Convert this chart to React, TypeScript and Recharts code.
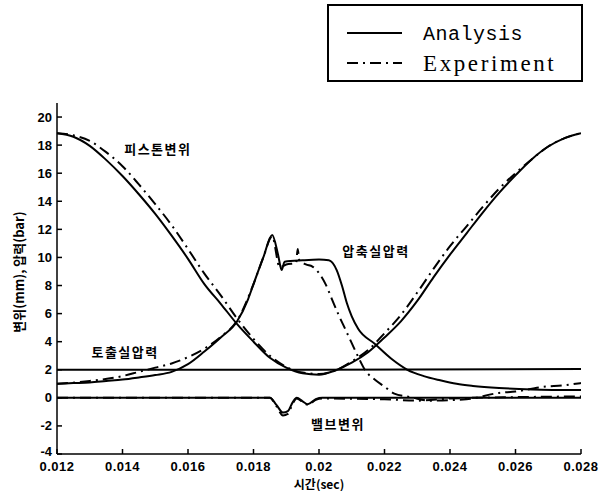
import { LineChart, Line, XAxis, YAxis, ReferenceDot } from "recharts";

// time axis (sec) and value axis ticks
const xTicks = [0.012, 0.014, 0.016, 0.018, 0.02, 0.022, 0.024, 0.026, 0.028];
const yTicks = [-4, -2, 0, 2, 4, 6, 8, 10, 12, 14, 16, 18, 20];

// 피스톤변위 (piston displacement)
const pistonT = [
  0.012, 0.0125, 0.013, 0.0135, 0.014, 0.0145, 0.015, 0.0155, 0.016, 0.0165,
  0.017, 0.0175, 0.018, 0.0185, 0.019, 0.0195, 0.02, 0.0205, 0.021, 0.0215,
  0.022, 0.0225, 0.023, 0.0235, 0.024, 0.0245, 0.025, 0.0255, 0.026, 0.0265,
  0.027, 0.0275, 0.028,
];
const pistonAnalysis = [
  18.85, 18.6, 17.95, 16.95, 15.8, 14.5, 13.1, 11.55, 9.9, 8.1,
  6.7, 5.25, 4.0, 2.85, 2.15, 1.75, 1.65, 1.95, 2.5, 3.25,
  4.3, 5.45, 6.9, 8.6, 10.2, 11.7, 13.2, 14.6, 15.85, 17.0,
  17.9, 18.5, 18.85,
];
const pistonExperiment = [
  18.85, 18.7, 18.3, 17.5, 16.5, 15.2, 13.8, 12.3, 10.6, 8.85,
  7.3, 5.65, 4.2, 3.0, 2.2, 1.8, 1.7, 1.95, 2.6, 3.4,
  4.6, 5.9, 7.5, 9.2, 10.8, 12.2, 13.6, 14.9, 16.0, 17.0,
  17.9, 18.5, 18.85,
];

// 압축실압력 (compression chamber pressure)
const compAnalysisT = [
  0.012, 0.0125, 0.013, 0.0135, 0.014, 0.0145, 0.015, 0.0155, 0.016, 0.0165,
  0.017, 0.0175, 0.01783, 0.018, 0.0183, 0.01857, 0.01875, 0.01886, 0.01895,
  0.0195, 0.02, 0.0203, 0.02054, 0.0207, 0.02085, 0.021, 0.0212, 0.0217,
  0.0222, 0.0227, 0.0232, 0.0237, 0.0242, 0.0247, 0.0255, 0.0265, 0.028,
];
const compAnalysis = [
  1.0, 1.05, 1.1, 1.2, 1.3, 1.45, 1.62, 1.85, 2.4, 3.3,
  4.3, 5.45, 7.0, 8.1, 10.0, 11.6, 10.2, 9.1, 9.7,
  9.8, 9.85, 9.8, 9.1, 8.0, 6.75, 5.8, 4.9, 3.85,
  2.8, 2.0, 1.55, 1.25, 1.0, 0.85, 0.7, 0.6, 0.55,
];
const compExperimentT = [
  0.012, 0.013, 0.014, 0.0145, 0.015, 0.0155, 0.016, 0.0165, 0.017, 0.0175,
  0.018, 0.0183, 0.01857, 0.0188, 0.019, 0.0193, 0.01935, 0.0194, 0.0196,
  0.0198, 0.0202, 0.0204, 0.0206, 0.0208, 0.021, 0.0212, 0.0214, 0.0217,
  0.022, 0.0223, 0.0228, 0.0234, 0.0245, 0.0255, 0.026, 0.0268, 0.0275, 0.028,
];
const compExperiment = [
  1.0, 1.2, 1.55, 1.85, 2.15, 2.45, 2.9, 3.5, 4.35, 5.5,
  8.1, 10.0, 11.5, 9.3, 9.5, 9.6, 10.6, 9.8, 9.5,
  9.35, 8.1, 7.0, 5.9, 4.9, 3.9, 2.9, 2.0, 1.3,
  0.8, 0.3, 0.05, -0.2, -0.1, 0.35, 0.45, 0.77, 0.9, 1.05,
];

// 토출실압력 (discharge chamber pressure)
const dischargeT = [0.012, 0.02, 0.028];
const dischargeAnalysis = [2.0, 2.0, 2.05];

// 밸브변위 (valve displacement)
const valveT = [
  0.012, 0.016, 0.0185, 0.0187, 0.0189, 0.01905, 0.0192, 0.01932, 0.0195,
  0.01966, 0.0199, 0.0201, 0.022, 0.023, 0.024, 0.026, 0.028,
];
const valveAnalysis = [
  0, 0, 0, -0.5, -1.05, -0.95, -0.3, 0, -0.25,
  -0.45, -0.1, 0, 0, 0, 0, 0, 0,
];
const valveExperiment = [
  0, 0, 0, -0.6, -1.25, -1.15, -0.4, -0.05, -0.3,
  -0.5, -0.15, -0.05, -0.1, -0.2, -0.05, 0.05, 0.1,
];

const zip = (ts: number[], vs: number[]) => ts.map((t, i) => ({ t, v: vs[i] }));

const DASH_DOT = "11 5 2 5";
const TICK_FONT = {
  fill: "#000",
  fontSize: 13,
  fontWeight: 700,
  fontFamily: "'Liberation Sans', Arial, sans-serif",
};
const KO_FONT = "'Noto Sans CJK KR', sans-serif";
const PLOT_BOTTOM = 454;

// bottom tick labels sit just under the frame
function TimeTick({ x, payload }: any) {
  return (
    <text x={x} y={PLOT_BOTTOM + 8} dy="0.71em" textAnchor="middle" letterSpacing={0.5} {...TICK_FONT}>
      {String(Number(Number(payload.value).toFixed(3)))}
    </text>
  );
}

// left tick labels, "-4" lifted slightly so it clears 0.012
function ValueTick({ y, payload }: any) {
  const lift = payload.value === -4 ? 3 : 0;
  return (
    <text x={52} y={y - lift} dy="0.35em" textAnchor="end" {...TICK_FONT}>
      {payload.value}
    </text>
  );
}

function Note({ x, y, text }: { x: number; y: number; text: string }) {
  return (
    <ReferenceDot
      x={x}
      y={y}
      r={0}
      fill="none"
      stroke="none"
      label={{
        value: text,
        position: "center",
        fill: "#000",
        fontSize: 13,
        fontWeight: 700,
        fontFamily: KO_FONT,
        letterSpacing: 1.5,
      }}
    />
  );
}

function LegendBox() {
  return (
    <svg
      width={256}
      height={78}
      style={{ position: "absolute", left: 327, top: 4 }}
    >
      <rect x={1} y={1} width={254} height={76} fill="#fff" stroke="#000" strokeWidth={2} />
      <line x1={20} y1={29} x2={75} y2={29} stroke="#000" strokeWidth={2} />
      <line x1={20} y1={59} x2={75} y2={59} stroke="#000" strokeWidth={2} strokeDasharray={DASH_DOT} />
      <text x={96} y={36} fontSize={20} fontFamily="'Liberation Mono', monospace" fill="#000" letterSpacing={0.5}>
        Analysis
      </text>
      <text x={96} y={67} fontSize={23} fontFamily="'Liberation Serif', serif" fill="#000" letterSpacing={2.6}>
        Experiment
      </text>
    </svg>
  );
}

export default function App() {
  const solid = { stroke: "#000", strokeWidth: 2, dot: false, isAnimationActive: false, type: "monotone" as const };
  const dashed = { ...solid, strokeWidth: 2, strokeDasharray: DASH_DOT };
  return (
    <div style={{ position: "absolute", left: 0, top: 0, width: 599, height: 491, background: "#fff" }}>
      <LineChart width={599} height={491} margin={{ top: 103, right: 18, bottom: 0, left: 0 }}>
        <XAxis
          dataKey="t"
          type="number"
          domain={[0.012, 0.028]}
          ticks={xTicks}
          allowDataOverflow
          height={37}
          stroke="#000"
          strokeWidth={1.5}
          tickSize={-5}
          tick={<TimeTick />}
          interval={0}
        />
        <XAxis
          xAxisId="top"
          orientation="top"
          type="number"
          domain={[0.012, 0.028]}
          ticks={xTicks}
          height={0}
          stroke="#000"
          strokeWidth={1.5}
          tickSize={-5}
          tick={false}
        />
        <YAxis
          type="number"
          domain={[-4, 21]}
          ticks={yTicks}
          allowDataOverflow
          width={57}
          stroke="#000"
          strokeWidth={1.5}
          tickSize={-5}
          tick={<ValueTick />}
          interval={0}
        />
        <YAxis
          yAxisId="right"
          orientation="right"
          type="number"
          domain={[-4, 21]}
          ticks={yTicks}
          width={0}
          stroke="#000"
          strokeWidth={1.5}
          tickSize={-5}
          tick={false}
        />
        <Line data={zip(dischargeT, dischargeAnalysis)} dataKey="v" {...solid} type="linear" />
        <Line data={zip(valveT, valveAnalysis)} dataKey="v" {...solid} />
        <Line data={zip(valveT, valveExperiment)} dataKey="v" {...dashed} />
        <Line data={zip(compAnalysisT, compAnalysis)} dataKey="v" {...solid} />
        <Line data={zip(compExperimentT, compExperiment)} dataKey="v" {...dashed} />
        <Line data={zip(pistonT, pistonAnalysis)} dataKey="v" {...solid} />
        <Line data={zip(pistonT, pistonExperiment)} dataKey="v" {...dashed} />
        <Note x={0.01508} y={17.72} text="피스톤변위" />
        <Note x={0.02174} y={10.4} text="압축실압력" />
        <Note x={0.01408} y={3.27} text="토출실압력" />
        <Note x={0.02058} y={-1.92} text="밸브변위" />
        <text
          x={319}
          y={489}
          textAnchor="middle"
          fontSize={12}
          fontWeight={700}
          fontFamily={KO_FONT}
          fill="#000"
        >
          시간(sec)
        </text>
        <text
          x={24}
          y={272}
          transform="rotate(-90 24 272)"
          textAnchor="middle"
          fontSize={13}
          fontWeight={700}
          fontFamily={KO_FONT}
          fill="#000"
        >
          변위(mm), 압력(bar)
        </text>
      </LineChart>
      <LegendBox />
    </div>
  );
}
